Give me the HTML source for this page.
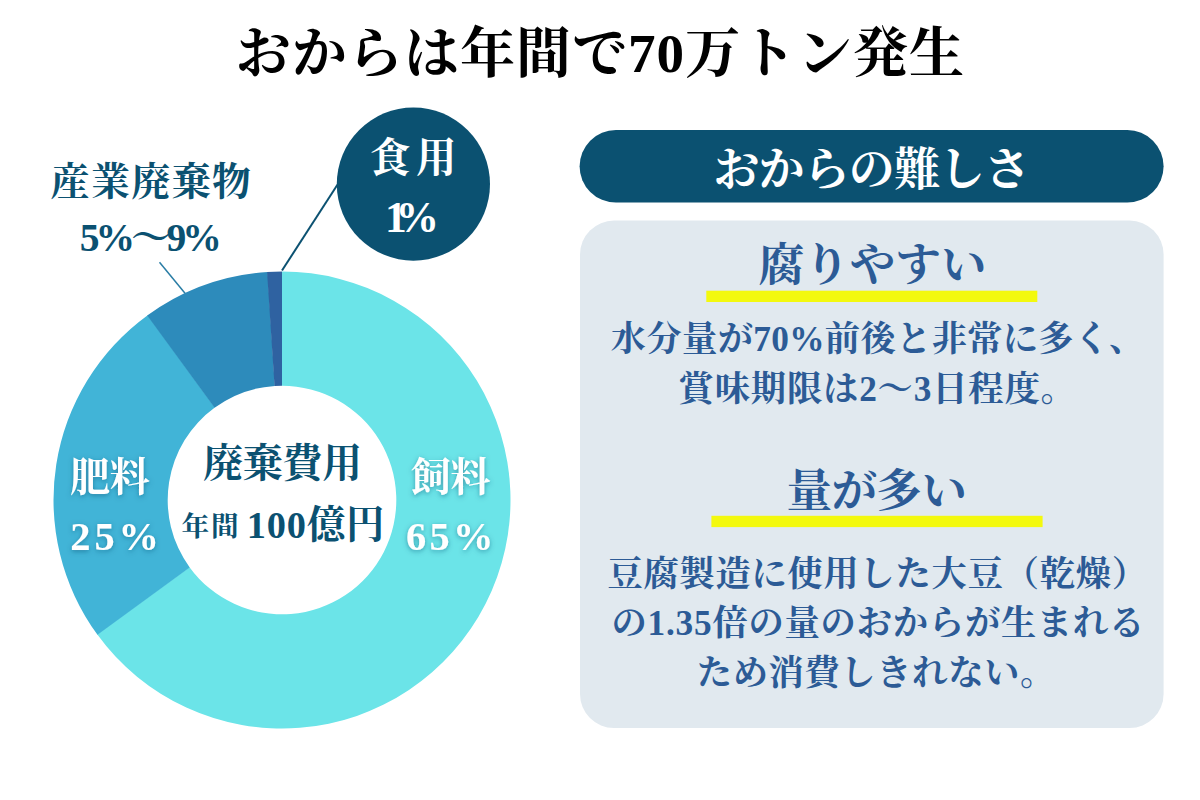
<!DOCTYPE html>
<html lang="ja"><head><meta charset="utf-8"><title>おからは年間で70万トン発生</title>
<style>
html,body{margin:0;padding:0;background:#fff}
body{width:1200px;height:800px;position:relative;overflow:hidden;font-family:"Liberation Serif","Noto Serif CJK SC",serif}
svg{position:absolute;left:0;top:0;display:block}
svg text{font-family:"Liberation Serif","Noto Serif CJK SC",serif;font-weight:bold}
</style></head><body>
<svg width="1200" height="800" viewBox="0 0 1200 800">
<defs>
<filter id="sh" x="-20%" y="-30%" width="140%" height="170%"><feDropShadow dx="0" dy="1.5" stdDeviation="2.7" flood-color="#0b4f70" flood-opacity="0.5"/></filter>
</defs>

<rect x="579.6" y="130" width="584" height="72.6" rx="36.3" fill="#0b5171"/>
<rect x="580" y="220.6" width="583.6" height="507.4" rx="34" fill="#e1e9ef"/>
<rect x="706.3" y="290.7" width="331" height="11.3" fill="#f3f90e"/>
<rect x="711.4" y="515.8" width="331.2" height="11.3" fill="#f3f90e"/>
<path d="M282.00 271.50A228.5 228.5 0 1 1 97.14 634.31L189.53 567.18A114.3 114.3 0 1 0 282.00 385.70Z" fill="#6be4e8"/><path d="M97.49 634.79A228.5 228.5 0 0 1 147.69 315.14L214.82 407.53A114.3 114.3 0 0 0 189.71 567.43Z" fill="#41b4d7"/><path d="M147.21 315.49A228.5 228.5 0 0 1 267.65 271.95L274.82 385.93A114.3 114.3 0 0 0 214.57 407.71Z" fill="#2d8bbb"/><path d="M267.06 271.99A228.5 228.5 0 0 1 282.00 271.50L282.00 385.70A114.3 114.3 0 0 0 274.52 385.94Z" fill="#2f62a1"/>
<line x1="282" y1="270.5" x2="337.6" y2="184.5" stroke="#0b5171" stroke-width="2"/>
<line x1="185" y1="293.2" x2="159.5" y2="262.2" stroke="#2a7da5" stroke-width="1.5"/>
<circle cx="413.4" cy="184.1" r="76.6" fill="#0b5171"/>

<text x="235.8" y="71.5" font-size="55.1" fill="#000" textLength="728.4">おからは年間で70万トン発生</text>
<text x="50.6" y="195.3" font-size="39" fill="#0b5171" textLength="200.5">産業廃棄物</text>
<text x="79.7" y="251.1" font-size="39.6" fill="#0b5171" textLength="142.2">5%〜9%</text>
<text x="370" y="171.5" font-size="40.6" fill="#fff" textLength="86.5">食用</text>
<text x="384.9" y="231.6" font-size="43.5" fill="#fff" textLength="54.1">1%</text>
<g filter="url(#sh)"><text x="70.1" y="491.3" font-size="40" fill="#fff" textLength="79.7">肥料</text></g>
<g filter="url(#sh)"><text x="70.3" y="550.4" font-size="40.5" fill="#fff" textLength="88.7">25%</text></g>
<g filter="url(#sh)"><text x="410.9" y="491.3" font-size="40" fill="#fff" textLength="79.7">飼料</text></g>
<g filter="url(#sh)"><text x="406.1" y="550.4" font-size="40.5" fill="#fff" textLength="87.5">65%</text></g>
<text x="202.9" y="476.7" font-size="40" fill="#0b5171" textLength="159.4">廃棄費用</text>
<text x="181.6" y="536.3" font-size="27.7" fill="#0b5171" textLength="57.2">年間</text>
<text x="246.7" y="538" font-size="38.4" fill="#0b5171" textLength="137.8">100億円</text>
<text x="713.4" y="184.6" font-size="46" fill="#fff" textLength="316.9">おからの難しさ</text>
<text x="758.4" y="281" font-size="45.7" fill="#2c5b96" textLength="228.3">腐りやすい</text>
<text x="610.8" y="350.6" font-size="35.3" fill="#2c5b96" textLength="533.5">水分量が70%前後と非常に多く、</text>
<text x="678.6" y="400.7" font-size="35.3" fill="#2c5b96" textLength="397.2">賞味期限は2〜3日程度。</text>
<text x="786.5" y="507" font-size="45.7" fill="#2c5b96" textLength="180.8">量が多い</text>
<text x="607.5" y="585.6" font-size="35.3" fill="#2c5b96" textLength="539.5">豆腐製造に使用した大豆（乾燥）</text>
<text x="611.5" y="635.3" font-size="35.3" fill="#2c5b96" textLength="533">の1.35倍の量のおからが生まれる</text>
<text x="696.7" y="685.25" font-size="35.3" fill="#2c5b96" textLength="358.7">ため消費しきれない。</text>
</svg>
</body></html>
